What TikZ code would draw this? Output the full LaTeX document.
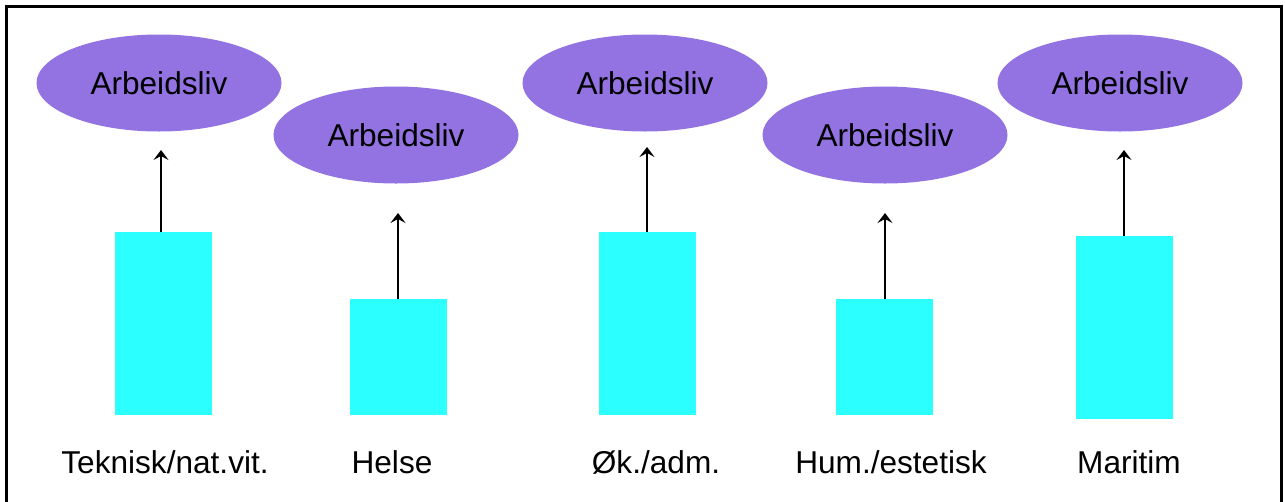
\documentclass[tikz,border=0pt]{standalone}
\usepackage{fontspec}
\setmainfont{Liberation Sans}
\usetikzlibrary{arrows.meta,shapes.geometric}
\definecolor{ovalpurple}{RGB}{147,114,226}
\definecolor{barcyan}{RGB}{44,255,255}
\tikzset{
  oval/.style={ellipse, fill=ovalpurple, draw=none, minimum width=245pt, minimum height=97pt, inner sep=0pt, font=\fontsize{31.6}{34}\selectfont},
  bar/.style={fill=barcyan, draw=none},
  lbl/.style={font=\fontsize{31.6}{34}\selectfont, inner sep=0pt},
  arr/.style={line width=1.5pt, -{Stealth[length=10pt,width=15pt,inset=4pt]}},
}
\begin{document}
\begin{tikzpicture}[x=1pt,y=-1pt]
\useasboundingbox (0,0) rectangle (1285,501);
\fill[white] (0,0) rectangle (1285,501);
\draw[line width=3pt] (6.5,520) -- (6.5,6.5) -- (1281.5,6.5) -- (1281.5,520);
% ovals
\node[oval] (o1) at (159,83) {Arbeidsliv};
\node[oval] (o2) at (396,135) {Arbeidsliv};
\node[oval] (o3) at (645,83) {Arbeidsliv};
\node[oval] (o4) at (885,135) {Arbeidsliv};
\node[oval] (o5) at (1120,83) {Arbeidsliv};
% bars
\fill[bar] (115,232) rectangle (212,415);
\fill[bar] (350,299) rectangle (447,415);
\fill[bar] (599,232) rectangle (696,415);
\fill[bar] (836,299) rectangle (933,415);
\fill[bar] (1076,236) rectangle (1173,419);
\coordinate (b1) at (161,232);
\coordinate (b2) at (398,299);
\coordinate (b3) at (647,232);
\coordinate (b4) at (885,299);
\coordinate (b5) at (1124,236);
\coordinate (t1) at (161,150);
\coordinate (t2) at (398,213);
\coordinate (t3) at (647,147);
\coordinate (t4) at (885,213);
\coordinate (t5) at (1124,150);
\foreach \i in {1,...,5} \draw[arr] (b\i) -- (t\i);
% labels
\node[lbl] (l1) at (165,462) {Teknisk/nat.vit.};
\node[lbl] (l2) at (392,462) {Helse};
\node[lbl] (l3) at (656,462) {Øk./adm.};
\node[lbl] (l4) at (891,462) {Hum./estetisk};
\node[lbl] (l5) at (1129,462) {Maritim};
\end{tikzpicture}
\end{document}
